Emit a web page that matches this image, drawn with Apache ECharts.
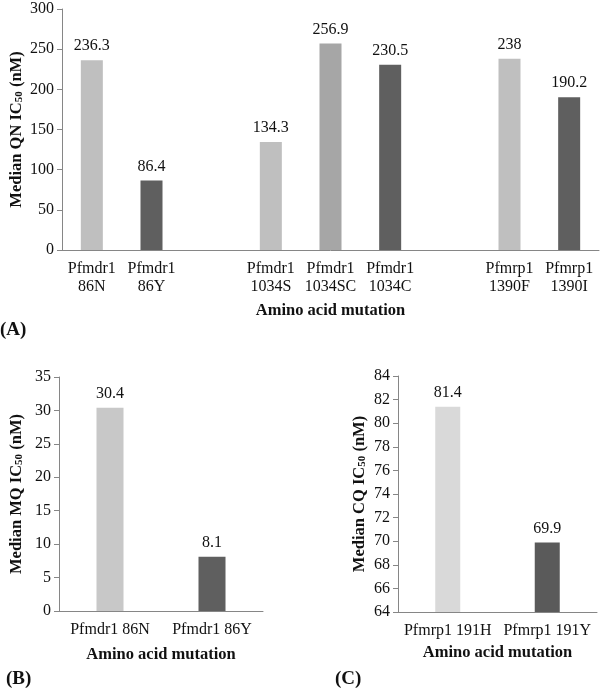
<!DOCTYPE html>
<html>
<head>
<meta charset="utf-8">
<script src="https://cdn.jsdelivr.net/npm/echarts@6/dist/echarts.min.js"></script>
<style>
  html, body { margin: 0; padding: 0; background: #fff; }
  #container { width: 600px; height: 689px; }
</style>
</head>
<body>
<div id="container"></div>
<script>
// (A) QN
var qnCategories = ['Pfmdr1\n86N', 'Pfmdr1\n86Y', '', 'Pfmdr1\n1034S', 'Pfmdr1\n1034SC', 'Pfmdr1\n1034C', '', 'Pfmrp1\n1390F', 'Pfmrp1\n1390I'];
var qnValues = [236.3, 86.4, '-', 134.3, 256.9, 230.5, '-', 238, 190.2];
// (B) MQ
var mqCategories = ['Pfmdr1 86N', 'Pfmdr1 86Y'];
var mqValues = [30.4, 8.1];
// (C) CQ
var cqCategories = ['Pfmrp1 191H', 'Pfmrp1 191Y'];
var cqValues = [81.4, 69.9];

// colours per bar
var qnColors = ['#bfbfbf', '#5f5f5f', '#fff', '#bfbfbf', '#a6a6a6', '#5f5f5f', '#fff', '#bfbfbf', '#5f5f5f'];
var mqColors = ['#c8c8c8', '#5f5f5f'];
var cqColors = ['#d9d9d9', '#5a5a5a'];

var font = '"Liberation Serif", "Times New Roman", serif';

function colored(values, colors) {
    return values.map(function (v, i) {
        return { value: v, itemStyle: { color: colors[i] } };
    });
}

function xAxisOf(idx, cats, gap) {
    return {
        type: 'category',
        gridIndex: idx,
        data: cats,
        axisLine: { lineStyle: { color: '#868686', width: 1 } },
        axisTick: { show: false },
        axisLabel: { color: '#111', fontFamily: font, fontSize: 16, lineHeight: 18, margin: 10, interval: 0 },
        name: 'Amino acid mutation',
        nameLocation: 'middle',
        nameGap: gap,
        nameMoveOverlap: false,
        nameTextStyle: { color: '#111', fontFamily: font, fontSize: 16.5, fontWeight: 'bold' }
    };
}

function yAxisOf(idx, drug, min, max, step, gap) {
    return {
        type: 'value',
        gridIndex: idx,
        min: min,
        max: max,
        interval: step,
        splitLine: { show: false },
        axisLine: { show: true, lineStyle: { color: '#868686', width: 1 } },
        axisTick: { show: true, length: 5, lineStyle: { color: '#868686' } },
        axisLabel: { color: '#111', fontFamily: font, fontSize: 16, margin: 8 },
        name: 'Median ' + drug + ' IC{sub|50} (nM)',
        nameLocation: 'middle',
        nameGap: gap,
        nameMoveOverlap: false,
        nameTextStyle: {
            color: '#111', fontFamily: font, fontSize: 16.5, fontWeight: 'bold',
            rich: { sub: { fontFamily: font, fontSize: 11, fontWeight: 'bold', color: '#111', padding: [6, 0, 0, 0] } }
        }
    };
}

function barOf(idx, values, colors, width) {
    return {
        type: 'bar',
        xAxisIndex: idx,
        yAxisIndex: idx,
        barWidth: width,
        data: colored(values, colors),
        label: { show: true, position: 'top', distance: 6, color: '#111', fontFamily: font, fontSize: 16 }
    };
}

var myChart = echarts.init(document.getElementById('container'));
var option = {
    animation: false,
    backgroundColor: '#fff',
    grid: [
        { left: 62, top: 9, width: 537, height: 241, containLabel: false, outerBoundsMode: 'none' },
        { left: 59, top: 377, width: 204, height: 234, containLabel: false, outerBoundsMode: 'none' },
        { left: 398, top: 376, width: 199, height: 236, containLabel: false, outerBoundsMode: 'none' }
    ],
    xAxis: [
        xAxisOf(0, qnCategories, 52),
        xAxisOf(1, mqCategories, 35),
        xAxisOf(2, cqCategories, 32)
    ],
    yAxis: [
        yAxisOf(0, 'QN', 0, 300, 50, 37),
        yAxisOf(1, 'MQ', 0, 35, 5, 34),
        yAxisOf(2, 'CQ', 64, 84, 2, 30)
    ],
    series: [
        barOf(0, qnValues, qnColors, 22),
        barOf(1, mqValues, mqColors, 27),
        barOf(2, cqValues, cqColors, 25)
    ],
    graphic: [
        { type: 'text', left: 0, top: 321, style: { text: '(A)', font: 'bold 19px ' + font, fill: '#111' } },
        { type: 'text', left: 6, top: 670, style: { text: '(B)', font: 'bold 19px ' + font, fill: '#111' } },
        { type: 'text', left: 335, top: 670, style: { text: '(C)', font: 'bold 19px ' + font, fill: '#111' } }
    ]
};
myChart.setOption(option, true);
</script>
</body>
</html>
